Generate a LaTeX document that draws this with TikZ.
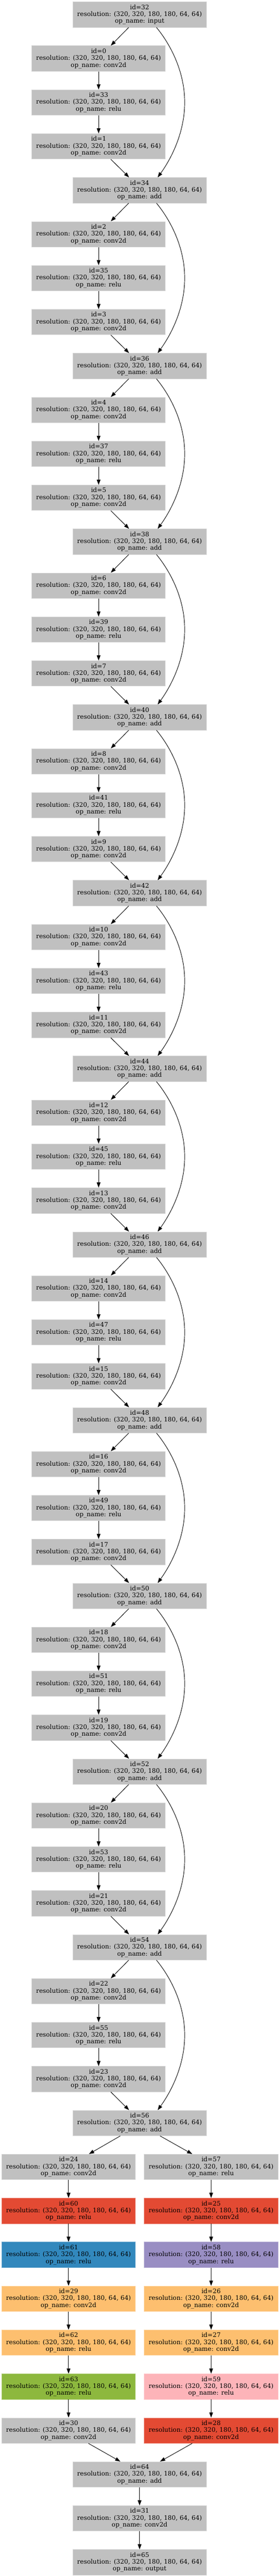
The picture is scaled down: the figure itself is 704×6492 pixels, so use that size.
\documentclass[tikz,border=0pt]{standalone}
\usepackage{fontspec}
\newfontfamily\dvs{DejaVu Serif}
\usetikzlibrary{arrows.meta}
\definecolor{gbox}{HTML}{C0C0C0}
\definecolor{rbox}{HTML}{E34A33}
\definecolor{bbox}{HTML}{3288BD}
\definecolor{obox}{HTML}{FDBF6F}
\definecolor{vbox}{HTML}{8DB83E}
\definecolor{pbox}{HTML}{998EC3}
\definecolor{kbox}{HTML}{FDB4B9}
\begin{document}
\begin{tikzpicture}[x=1pt,y=1pt,
  box/.style={rectangle, minimum width=336.5pt, minimum height=64pt, inner sep=0pt,
    align=center, font=\dvs\fontsize{15.7}{17.3}\selectfont, fill=#1, draw=#1!65!white, line width=1pt},
  box/.default=gbox,
  edge/.style={-{Triangle[length=13pt,width=9.3pt]}, line width=1.2pt, black}]
\useasboundingbox (0,0) rectangle (704,-6492);
\def\res{resolution: (320, 320, 180, 180, 64, 64)}
\node[box] (n32) at (351.5,-36.7) {id=32\\\res\\op\_name: input};
\foreach \b in {0,...,11} {
  \pgfmathtruncatemacro\pv{32+2*\b}
  \pgfmathtruncatemacro\ca{2*\b}
  \pgfmathtruncatemacro\rl{33+2*\b}
  \pgfmathtruncatemacro\cb{2*\b+1}
  \pgfmathtruncatemacro\ad{34+2*\b}
  \pgfmathsetmacro\ya{-(36.7+110.7*(4*\b+1))}
  \pgfmathsetmacro\yb{-(36.7+110.7*(4*\b+2))}
  \pgfmathsetmacro\yc{-(36.7+110.7*(4*\b+3))}
  \pgfmathsetmacro\yd{-(36.7+110.7*(4*\b+4))}
  \node[box] (n\ca) at (248.3,\ya) {id=\ca\\\res\\op\_name: conv2d};
  \node[box] (n\rl) at (248.3,\yb) {id=\rl\\\res\\op\_name: relu};
  \node[box] (n\cb) at (248.3,\yc) {id=\cb\\\res\\op\_name: conv2d};
  \node[box] (n\ad) at (351.5,\yd) {id=\ad\\\res\\op\_name: add};
  \draw[edge] ([xshift=-27.5pt]n\pv.south) -- ([xshift=30.7pt]n\ca.north);
  \draw[edge] (n\ca.south) -- (n\rl.north);
  \draw[edge] (n\rl.south) -- (n\cb.north);
  \draw[edge] ([xshift=30.7pt]n\cb.south) -- ([xshift=-26.5pt]n\ad.north);
  \draw[edge] ([xshift=42.5pt]n\pv.south) .. controls +(26,-31.3) and +(0,88) .. ([xshift=216.7pt]n\rl.center)
     .. controls +(0,-88) and +(23,31.5) .. ([xshift=45.5pt]n\ad.north);
}
% branches
\def\yr#1{-(36.7+110.7*#1)}
\node[box] (n24) at (172.6,{\yr{49}}) {id=24\\\res\\op\_name: conv2d};
\node[box=rbox] (n60) at (172.6,{\yr{50}}) {id=60\\\res\\op\_name: relu};
\node[box=bbox] (n61) at (172.6,{\yr{51}}) {id=61\\\res\\op\_name: relu};
\node[box=obox] (n29) at (172.6,{\yr{52}}) {id=29\\\res\\op\_name: conv2d};
\node[box=obox] (n62) at (172.6,{\yr{53}}) {id=62\\\res\\op\_name: relu};
\node[box=vbox] (n63) at (172.6,{\yr{54}}) {id=63\\\res\\op\_name: relu};
\node[box] (n30) at (172.6,{\yr{55}}) {id=30\\\res\\op\_name: conv2d};
\node[box] (n57) at (531.6,{\yr{49}}) {id=57\\\res\\op\_name: relu};
\node[box=rbox] (n25) at (531.6,{\yr{50}}) {id=25\\\res\\op\_name: conv2d};
\node[box=pbox] (n58) at (531.6,{\yr{51}}) {id=58\\\res\\op\_name: relu};
\node[box=obox] (n26) at (531.6,{\yr{52}}) {id=26\\\res\\op\_name: conv2d};
\node[box=obox] (n27) at (531.6,{\yr{53}}) {id=27\\\res\\op\_name: conv2d};
\node[box=kbox] (n59) at (531.6,{\yr{54}}) {id=59\\\res\\op\_name: relu};
\node[box=rbox] (n28) at (531.6,{\yr{55}}) {id=28\\\res\\op\_name: conv2d};
\node[box] (n64) at (351.5,{\yr{56}}) {id=64\\\res\\op\_name: add};
\node[box] (n31) at (351.5,{\yr{57}}) {id=31\\\res\\op\_name: conv2d};
\node[box] (n65) at (351.5,{\yr{58}}) {id=65\\\res\\op\_name: output};
\draw[edge] ([xshift=-48.5pt]n56.south) -- ([xshift=51.4pt]n24.north);
\draw[edge] ([xshift=51.5pt]n56.south) -- ([xshift=-47.6pt]n57.north);
\draw[edge] (n24) -- (n60);
\draw[edge] (n60) -- (n61);
\draw[edge] (n61) -- (n29);
\draw[edge] (n29) -- (n62);
\draw[edge] (n62) -- (n63);
\draw[edge] (n63) -- (n30);
\draw[edge] (n57) -- (n25);
\draw[edge] (n25) -- (n58);
\draw[edge] (n58) -- (n26);
\draw[edge] (n26) -- (n27);
\draw[edge] (n27) -- (n59);
\draw[edge] (n59) -- (n28);
\draw[edge] ([xshift=50pt]n30.south) -- ([xshift=-48.5pt]n64.north);
\draw[edge] ([xshift=-47.6pt]n28.south) -- ([xshift=51.5pt]n64.north);
\draw[edge] (n64) -- (n31);
\draw[edge] (n31) -- (n65);
\end{tikzpicture}
\end{document}
